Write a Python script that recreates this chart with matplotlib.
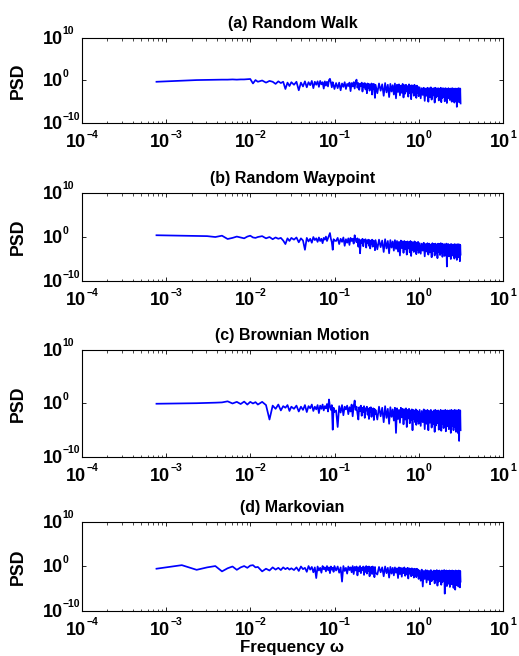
"""Power spectral density of four mobility models, stacked log-log panels."""

import matplotlib

matplotlib.use("Agg")
import matplotlib.pyplot as plt
import numpy as np
from matplotlib.ticker import LogLocator, NullFormatter, NullLocator
from matplotlib.transforms import IdentityTransform

N_FFT = 8192

# DFT bins kept from each spectrum (every bin at low frequency, sparser higher up)
bins = np.concatenate([
    np.arange(1, 17),
    np.arange(18, 41, 2),
    np.arange(43, 131, 3),
    np.arange(136, 401, 6),
    np.arange(420, 1301, 20),
    np.arange(1336, 4097, 40),
])

titles = ["(a) Random Walk", "(b) Random Waypoint", "(c) Brownian Motion", "(d) Markovian"]

# log10(PSD), one value per bin above
psd_log_walk = [
    -0.3, -0.05, 0.1, 0.15, 0.2, 0.2, 0.2, 0.25, 0.2, 0.25, 0.25, 0.3, 0.35, -0.7, 0.1, -0.3,
    0.0, -0.5, -0.1, -0.3, -0.8, -0.2, -0.6, -0.3, -2.0, -0.5, -1.3, -0.4,
    -1.0, -0.3, -2.3, -0.5, -1.4, -0.2, -1.6, -0.4, -1.1, -0.1,
    -1.8, -0.3, -1.0, -0.2, -1.5, -0.1, -0.9, -0.4, -1.9, -0.2,
    -1.2, -0.3, -1.4, 0.1, 0.4, -0.5, -1.6, -0.4, -1.1, -2.0,
    -0.6, -1.8, -0.5, -2.3, -0.7, -1.5, -0.4, -2.0, -0.8, -1.3,
    -0.5, -2.5, -0.6, -1.4, -0.4, -1.9, -0.3, 0.2, -1.7, -0.6,
    -2.2, -0.8, -1.3, -0.5, -2.6, -0.7, -1.6, -0.6, -2.1, -0.9,
    -3.0, -0.7, -1.8, -0.8, -2.4, -1.0, -1.6, -0.7, -3.3, -0.9,
    -2.0, -0.8, -2.7, -4.1, -1.0,
    -3.0, -0.7, -2.4, -0.9, -3.6, -0.6, -2.8, -1.0, -3.9, -0.8,
    -2.6, -1.1, -3.3, -0.7, -4.2, -1.0, -2.7, -0.9, -3.5, -1.2,
    -2.9, -0.8, -4.0, -1.1, -3.1, -1.0, -2.6, -1.3, -3.8, -0.9,
    -3.0, -1.2, -4.4, -1.1, -2.8, -1.3, -3.6, -1.0, -3.2, -1.4,
    -4.1, -1.2, -2.9, -1.5, -3.7,
    -1.6, -4.2, -1.8, -3.4, -1.7, -4.8, -1.9, -3.6, -1.7, -5.0,
    -1.8, -3.9, -1.6, -4.5, -1.9, -3.5, -1.8, -5.2, -1.7, -4.0,
    -1.9, -3.7, -1.8, -4.7, -2.0, -3.6, -1.7, -5.1, -1.9, -4.1,
    -1.8, -3.8, -2.0, -4.9, -1.8, -3.5, -1.9, -5.3, -2.0, -4.2,
    -1.8, -3.9, -2.1, -4.6, -1.9, -3.6, -2.0, -5.0, -1.8, -4.4,
    -2.0, -3.7, -1.9, -5.2, -2.1, -4.0, -1.9, -4.8, -2.0, -6.2,
    -1.9, -4.3, -2.1, -3.8, -1.8, -5.1, -2.0, -4.5, -1.9, -5.4,
]

psd_log_waypoint = [
    0.4, 0.3, 0.25, 0.2, 0.0, 0.3, -0.45, -0.2, 0.1, -0.1, -0.3, 0.1, 0.3, -0.1, -0.2, 0.0,
    0.2, -0.3, 0.0, -0.5, -0.1, -0.4, -0.2, -0.8, -1.6, -0.3, -0.9, -0.2,
    -0.6, -0.1, -1.2, -0.3, -0.8, -2.9, -0.2, -1.0, -0.4, -1.3,
    0.0, -0.7, -0.3, -1.1, -0.1, -0.9, -0.4, -1.4, -0.2, -0.6,
    0.1, -0.9, -0.3, 0.3, 0.9, -0.4, -1.2, -2.9, -0.5, -0.8,
    -0.9, -0.2, -1.6, -0.4, -1.1, -0.1, -2.0, -0.5, -1.3, -0.3,
    -1.8, -0.2, -0.9, -0.4, -1.5, 0.4, -0.6, -1.2, -0.3, -2.2,
    -0.5, -3.7, -0.7, -1.4, -0.4, -2.1, -0.6, -1.0, -0.5, -2.4,
    -0.8, -1.3, -0.6, -2.0, -0.7, -2.6, -0.9, -1.5, -0.6, -2.2,
    -0.8, -1.7, -1.0, -3.0, -0.7,
    -2.8, -0.6, -2.3, -0.8, -3.4, -0.5, -2.6, -0.9, -3.7, -0.7,
    -2.4, -1.0, -3.1, -0.7, -2.7, -0.9, -3.3, -1.1, -4.2, -0.8,
    -2.5, -1.0, -3.6, -0.9, -2.8, -1.1, -4.0, -1.0, -2.6, -1.2,
    -3.5, -0.9, -4.3, -1.1, -2.9, -1.3, -3.4, -1.0, -2.7, -1.2,
    -3.9, -1.3, -3.0, -1.1, -3.6,
    -1.4, -3.8, -1.5, -3.1, -1.3, -4.4, -1.6, -3.3, -1.4, -4.0,
    -1.5, -3.5, -1.7, -4.6, -1.4, -3.2, -1.6, -4.2, -1.5, -3.6,
    -1.7, -4.8, -1.5, -3.4, -1.6, -4.1, -1.4, -3.7, -1.5, -4.5,
    -1.7, -3.3, -1.6, -4.3, -1.8, -3.9, -1.5, -6.7, -1.7, -3.5,
    -1.6, -4.4, -1.8, -3.6, -1.7, -5.0, -1.6, -3.8, -1.8, -4.2,
    -1.7, -3.4, -1.9, -4.9, -1.6, -3.7, -1.8, -4.5, -1.7, -5.2,
    -1.8, -3.9, -1.6, -4.6, -1.9, -3.5, -1.7, -5.5, -1.8, -4.0,
]

psd_log_brownian = [
    -0.05, 0.0, 0.05, 0.1, 0.15, 0.2, 0.4, 0.0, 0.3, -0.1, 0.35, -0.2, 0.3, 0.0, 0.25, -0.2,
    0.3, -0.3, -3.0, -0.4, -1.0, -0.2, -1.3, -0.5, -0.8, -0.3, -1.4, -0.6,
    -1.0, -0.4, -1.5, -0.6, -1.2, -0.3, -1.6, -0.5, -0.9, -0.2,
    -1.4, -0.6, -1.1, -0.3, -1.8, -0.4, -1.0, -0.2, -1.3, -0.5,
    -0.9, -0.1, -1.5, 0.75, -0.6, -1.2, -0.3, -4.9, -0.8, -1.6,
    -1.3, -4.4, -0.5, -1.7, -0.3, -2.2, -0.6, -1.1, -0.4, -2.0,
    -0.7, -1.5, -0.2, -2.4, -0.5, 0.55, -1.2, -0.6, -1.9, -3.0,
    -0.7, -1.4, -0.4, -2.3, -0.8, -1.6, -0.5, -2.7, -0.9, -1.3,
    -0.6, -2.1, -1.0, -2.9, -0.8, -1.5, -0.7, -2.5, -1.1, -1.8,
    -0.9, -3.1, -1.0, -2.0, -1.2,
    -3.0, -0.6, -2.4, -0.8, -3.5, -0.5, -2.7, -1.0, -3.8, -0.7,
    -2.5, -1.1, -3.2, -0.8, -5.5, -0.9, -2.9, -1.2, -3.6, -0.8,
    -2.6, -1.0, -3.9, -1.1, -3.0, -0.9, -4.4, -1.2, -2.8, -1.0,
    -3.7, -1.3, -3.1, -1.1, -5.0, -1.2, -2.9, -1.4, -3.5, -1.1,
    -4.0, -1.3, -3.2, -1.5, -3.8,
    -1.2, -4.2, -1.4, -3.5, -1.1, -4.8, -1.3, -3.8, -1.2, -5.0,
    -1.4, -3.6, -1.2, -4.5, -1.5, -3.9, -1.3, -5.3, -1.2, -4.1,
    -1.4, -3.7, -1.3, -4.9, -1.5, -4.0, -1.2, -5.1, -1.4, -3.8,
    -1.3, -4.6, -1.5, -3.9, -1.2, -5.2, -1.4, -4.3, -1.3, -3.7,
    -1.5, -4.8, -1.3, -4.0, -1.4, -5.5, -1.2, -4.2, -1.5, -3.9,
    -1.3, -5.0, -1.4, -4.4, -1.2, -3.8, -1.5, -5.3, -1.3, -4.1,
    -1.4, -4.7, -1.3, -5.6, -1.2, -7.0, -1.4, -4.5, -1.3, -5.0,
]

psd_log_markov = [
    -0.5, 0.3, -0.75, -0.2, 0.1, -1.1, -0.4, 0.0, -0.75, -0.2, 0.1, -0.3, 0.2, 0.3, -0.2, -0.1,
    -1.1, -0.5, -0.9, -0.2, -0.7, -0.3, -0.8, -0.2, -0.6, -0.3, -0.7, -0.4,
    -0.8, -0.2, -1.0, 0.0, -0.6, -0.3, -1.2, 0.1, -0.7, -0.1,
    -1.3, -0.2, -2.6, 0.0, -0.9, -0.3, -1.4, 0.1, -0.6, -0.2,
    -1.1, 0.1, -0.8, -0.2, -1.5, 0.0, -0.7, -0.3, -1.2, 0.1,
    -0.9, 0.0, -1.4, -0.2, -3.4, 0.1, -1.0, -0.3, -1.6, 0.0,
    -0.8, -0.2, -1.3, 0.1, -1.7, -0.1, -0.9, 0.0, -2.0, -0.2,
    -1.1, 0.1, -1.5, -0.3, -0.8, 0.0, -1.9, -0.2, -1.2, 0.1,
    -1.6, -0.1, -1.0, 0.0, -2.2, -0.2, -1.3, -0.1, -1.7, 0.0,
    -1.1, -0.3, -2.4, -0.1, -1.4,
    -1.8, -0.1, -1.3, -0.2, -2.2, 0.0, -1.5, -0.3, -2.5, -0.1,
    -1.6, -0.3, -2.0, -0.2, -1.4, -0.4, -2.6, -0.2, -1.7, -0.3,
    -2.3, -0.4, -1.5, -0.2, -2.1, -0.5, -1.8, -0.3, -2.7, -0.4,
    -1.6, -0.5, -2.2, -0.4, -1.9, -0.6, -2.5, -0.5, -1.7, -0.6,
    -2.4, -0.5, -2.0, -0.7, -2.8,
    -0.9, -3.2, -0.7, -4.5, -1.0, -2.8, -0.8, -3.6, -0.9, -3.0,
    -1.0, -4.0, -0.8, -3.3, -1.1, -2.9, -0.9, -3.8, -1.0, -3.1,
    -0.8, -4.3, -1.0, -3.4, -0.9, -3.0, -1.1, -4.1, -0.9, -3.5,
    -1.0, -3.2, -0.8, -6.1, -1.1, -3.7, -0.9, -4.4, -1.0, -3.3,
    -1.1, -3.9, -0.9, -4.6, -1.0, -3.4, -1.2, -4.0, -0.9, -3.6,
    -1.1, -4.8, -1.0, -3.5, -1.2, -5.2, -0.9, -3.8, -1.1, -4.2,
    -1.0, -3.6, -1.2, -4.5, -0.9, -3.9, -1.1, -4.7, -1.0, -3.4,
]

x_ticks = [1e-4, 1e-3, 1e-2, 1e-1, 1e0, 1e1]
x_tick_exponents = ["\u22124", "\u22123", "\u22122", "\u22121", "0", "1"]
y_ticks = [1e-10, 1e0, 1e10]
y_tick_exponents = ["\u221210", "0", "10"]

BASE_SIZE = 13
EXP_SIZE = 7.5
EXP_RAISE = 9.5  # px between base and exponent baselines


def power_label(fig, renderer, x, y, exponent, centered):
    """Write 10^exponent (MATLAB style, small raised exponent); x, y in pixels, y = baseline."""
    kw = dict(fontweight="bold", transform=IdentityTransform(), ha="left", va="baseline")
    base = fig.text(0, 0, "10", fontsize=BASE_SIZE, **kw)
    sup = fig.text(0, 0, exponent, fontsize=EXP_SIZE, **kw)
    bw = base.get_window_extent(renderer).width
    ew = sup.get_window_extent(renderer).width
    x0 = x - (bw + ew) / 2 if centered else x
    base.set_position((x0, y))
    sup.set_position((x0 + bw, y + EXP_RAISE))


def main() -> None:
    plt.rcParams.update(
        {
            "font.family": ["Liberation Sans", "DejaVu Sans"],
            "font.weight": "bold",
            "axes.linewidth": 0.8,
        }
    )

    omega = 2 * np.pi * bins / N_FFT
    series = [psd_log_walk, psd_log_waypoint, psd_log_brownian, psd_log_markov]
    for vals in series:
        assert len(vals) == len(bins), (len(vals), len(bins))

    fig = plt.figure(figsize=(5.19, 6.56), dpi=100)
    renderer = fig.canvas.get_renderer()
    # [left, bottom, width, height] in figure fraction
    boxes = [
        [0.158, 0.8125, 0.811, 0.1296],
        [0.158, 0.5716, 0.811, 0.1342],
        [0.158, 0.3034, 0.811, 0.1631],
        [0.158, 0.0686, 0.811, 0.1357],
    ]

    for box, title, vals in zip(boxes, titles, series):
        ax = fig.add_axes(box)
        ax.loglog(omega, 10.0 ** np.asarray(vals), color="#0000ff", linewidth=1.25)
        ax.set_xlim(1e-4, 1e1)
        ax.set_ylim(1e-10, 1e10)
        ax.set_xticks(x_ticks)
        ax.xaxis.set_minor_locator(LogLocator(base=10, subs=np.arange(2, 10), numticks=20))
        ax.xaxis.set_minor_formatter(NullFormatter())
        ax.set_yticks(y_ticks)
        ax.yaxis.set_minor_locator(NullLocator())
        ax.tick_params(which="both", direction="in", top=True, right=True,
                       labelbottom=False, labelleft=False)
        ax.tick_params(which="major", length=3, width=0.6)
        ax.tick_params(which="minor", length=1.8, width=0.5)
        ax.set_title(title, fontsize=11.5, fontweight="bold", pad=7)
        ax.set_ylabel("PSD", fontsize=12.8, fontweight="bold")
        ax.yaxis.set_label_coords(-0.130, 0.5)

        bb = ax.get_window_extent(renderer)
        for v, e in zip(x_ticks, x_tick_exponents):
            px = ax.transData.transform((v, 1.0))[0]
            power_label(fig, renderer, px, bb.y0 - 24, e, centered=True)
        for v, e in zip(y_ticks, y_tick_exponents):
            py = ax.transData.transform((1e-3, v))[1]
            power_label(fig, renderer, bb.x0 - 39.5, py - 6, e, centered=False)

    ax.set_xlabel("Frequency ω", fontsize=12.2, fontweight="bold")
    ax.xaxis.set_label_coords(0.5, -0.328)

    fig.savefig("out.png", dpi=100)


if __name__ == "__main__":
    main()
